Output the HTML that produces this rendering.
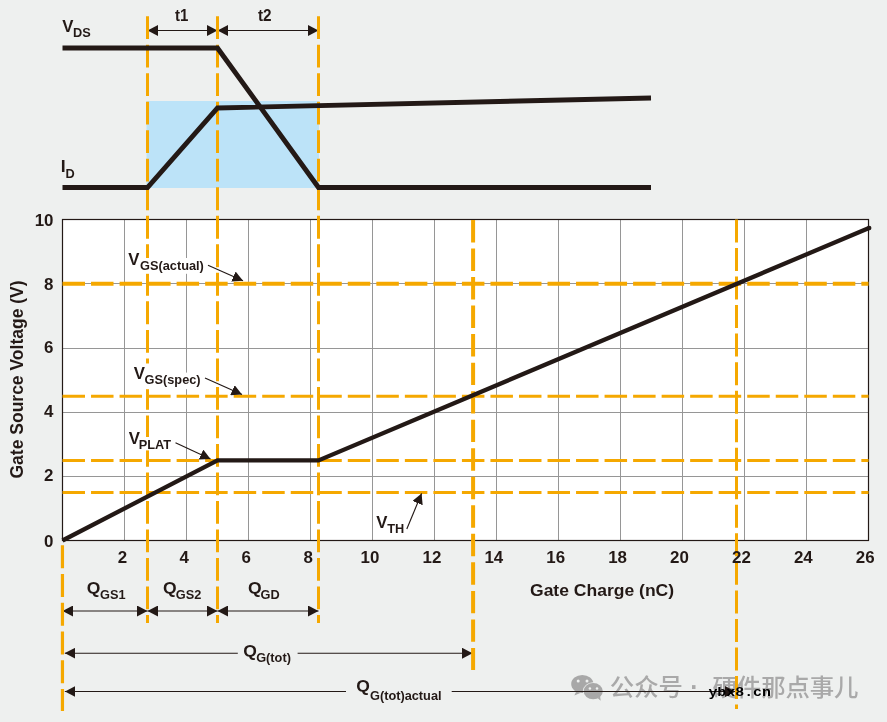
<!DOCTYPE html>
<html><head><meta charset="utf-8"><title>Gate Charge</title>
<style>
html,body{margin:0;padding:0;background:#eef0ef;}
body{width:887px;height:722px;overflow:hidden;}
svg{display:block}
text{font-family:"Liberation Sans",sans-serif;font-weight:bold;fill:#231916;}
.t16{font-size:16.1px}
.t17{font-size:16.7px}
.sub{font-size:12.1px}
.wm{font-family:"Liberation Sans","Noto Sans CJK SC",sans-serif;font-weight:500;fill:#a9a9a9;font-size:24.4px}
.site{font-family:"Liberation Mono",monospace;font-weight:bold;font-size:12.5px;fill:#000}
</style></head><body>
<svg width="887" height="722" viewBox="0 0 887 722">
<defs>
<marker id="ah" viewBox="0 0 10 10" refX="10" refY="5" markerWidth="10.5" markerHeight="11" markerUnits="userSpaceOnUse" preserveAspectRatio="none" orient="auto-start-reverse"><path d="M0,0 L10,5 L0,10 Z" fill="#231916"/></marker>
</defs>
<rect x="0" y="0" width="887" height="722" fill="#eef0ef"/>

<text x="609.8" y="696" class="wm">公众号</text>
<text x="694.5" y="696" class="wm" text-anchor="middle" style="font-weight:bold;font-size:25px">·</text>
<text x="712.5" y="696" class="wm" textLength="146" lengthAdjust="spacing">硬件那点事儿</text>
<g fill="#a8a8a8"><ellipse cx="582.3" cy="684" rx="11.1" ry="9.1"/><path d="M576.5 691 l-2.2 4.6 l6 -2.6z"/><ellipse cx="593.2" cy="691.2" rx="10.4" ry="8.9" fill="#eef0ef"/><ellipse cx="593.2" cy="691.2" rx="9.6" ry="8.1"/><path d="M597.5 698 l3.2 2.8 l-0.6 -4.4z"/></g>
<g fill="#eef0ef"><circle cx="578.2" cy="681" r="1.5"/><circle cx="587" cy="681" r="1.5"/><circle cx="589.9" cy="688.6" r="1.25"/><circle cx="597" cy="688.6" r="1.25"/></g>
<rect x="146.5" y="101" width="172.5" height="87" fill="#bce3f8"/>
<rect x="62.5" y="219.5" width="806.0" height="321.0" fill="#fff"/>
<line x1="124.5" y1="219.5" x2="124.5" y2="540.5" stroke="#969696" stroke-width="1"/>
<line x1="186.5" y1="219.5" x2="186.5" y2="540.5" stroke="#969696" stroke-width="1"/>
<line x1="248.5" y1="219.5" x2="248.5" y2="540.5" stroke="#969696" stroke-width="1"/>
<line x1="310.5" y1="219.5" x2="310.5" y2="540.5" stroke="#969696" stroke-width="1"/>
<line x1="372.5" y1="219.5" x2="372.5" y2="540.5" stroke="#969696" stroke-width="1"/>
<line x1="434.5" y1="219.5" x2="434.5" y2="540.5" stroke="#969696" stroke-width="1"/>
<line x1="496.5" y1="219.5" x2="496.5" y2="540.5" stroke="#969696" stroke-width="1"/>
<line x1="558.5" y1="219.5" x2="558.5" y2="540.5" stroke="#969696" stroke-width="1"/>
<line x1="620.5" y1="219.5" x2="620.5" y2="540.5" stroke="#969696" stroke-width="1"/>
<line x1="682.5" y1="219.5" x2="682.5" y2="540.5" stroke="#969696" stroke-width="1"/>
<line x1="744.5" y1="219.5" x2="744.5" y2="540.5" stroke="#969696" stroke-width="1"/>
<line x1="806.5" y1="219.5" x2="806.5" y2="540.5" stroke="#969696" stroke-width="1"/>
<line x1="62.5" y1="476.5" x2="868.5" y2="476.5" stroke="#969696" stroke-width="1"/>
<line x1="62.5" y1="412.5" x2="868.5" y2="412.5" stroke="#969696" stroke-width="1"/>
<line x1="62.5" y1="348.5" x2="868.5" y2="348.5" stroke="#969696" stroke-width="1"/>
<line x1="62.5" y1="283.5" x2="868.5" y2="283.5" stroke="#969696" stroke-width="1"/>
<rect x="62.5" y="219.5" width="806.0" height="321.0" fill="none" stroke="#231916" stroke-width="1.2"/>
<line x1="62.5" y1="283.7" x2="868.5" y2="283.7" stroke="#f5a800" stroke-width="4.1" stroke-dasharray="22.5 6.03"/>
<line x1="62.5" y1="396.2" x2="868.5" y2="396.2" stroke="#f5a800" stroke-width="3" stroke-dasharray="22.5 6.03"/>
<line x1="62.5" y1="460.4" x2="868.5" y2="460.4" stroke="#f5a800" stroke-width="3" stroke-dasharray="22.5 6.03"/>
<line x1="62.5" y1="492.4" x2="868.5" y2="492.4" stroke="#f5a800" stroke-width="3" stroke-dasharray="22.5 6.03"/>
<line x1="147.5" y1="30.5" x2="217.5" y2="30.5" stroke="#231916" stroke-width="1.15" marker-start="url(#ah)" marker-end="url(#ah)"/>
<line x1="217.5" y1="30.5" x2="318.5" y2="30.5" stroke="#231916" stroke-width="1.15" marker-start="url(#ah)" marker-end="url(#ah)"/>
<line x1="62.5" y1="611" x2="147.5" y2="611" stroke="#231916" stroke-width="1.15" marker-start="url(#ah)" marker-end="url(#ah)"/>
<line x1="147.5" y1="611" x2="217.5" y2="611" stroke="#231916" stroke-width="1.15" marker-start="url(#ah)" marker-end="url(#ah)"/>
<line x1="217.5" y1="611" x2="318.5" y2="611" stroke="#231916" stroke-width="1.15" marker-start="url(#ah)" marker-end="url(#ah)"/>
<line x1="64.8" y1="653.2" x2="472.4" y2="653.2" stroke="#231916" stroke-width="1.15" marker-start="url(#ah)" marker-end="url(#ah)"/>
<line x1="64.8" y1="691.5" x2="735.5" y2="691.5" stroke="#231916" stroke-width="1.15" marker-start="url(#ah)" marker-end="url(#ah)"/>
<line x1="147.5" y1="16.27" x2="147.5" y2="623" stroke="#f5a800" stroke-width="3" stroke-dasharray="22.8 5.71"/>
<line x1="217.5" y1="16.27" x2="217.5" y2="623" stroke="#f5a800" stroke-width="3" stroke-dasharray="22.8 5.71"/>
<line x1="318.5" y1="16.27" x2="318.5" y2="623" stroke="#f5a800" stroke-width="3" stroke-dasharray="22.8 5.71"/>
<line x1="62.45" y1="545.2" x2="62.45" y2="711" stroke="#f5a800" stroke-width="3.2" stroke-dasharray="23 5.76"/>
<line x1="473.1" y1="220" x2="473.1" y2="670" stroke="#f5a800" stroke-width="4" stroke-dasharray="22.4 6.13"/>
<line x1="736.5" y1="219.5" x2="736.5" y2="709" stroke="#f5a800" stroke-width="3" stroke-dasharray="23 5.53"/>
<polyline points="62.5,48 217.5,48 318.5,187.5 651,187.5" fill="none" stroke="#231916" stroke-width="4.9" stroke-linejoin="miter"/>
<polyline points="62.5,187.5 147.5,187.5 217.5,108 651,98" fill="none" stroke="#231916" stroke-width="4.9" stroke-linejoin="miter"/>
<polyline points="62.5,540.5 217.5,460.4 318.5,460.4 869,228" fill="none" stroke="#231916" stroke-width="4.3" stroke-linejoin="miter"/>
<circle cx="869.2" cy="227.9" r="2.25" fill="#231916"/>
<line x1="208" y1="265.3" x2="243" y2="280.8" stroke="#231916" stroke-width="1.15" marker-end="url(#ah)"/>
<line x1="205" y1="378" x2="242" y2="394.5" stroke="#231916" stroke-width="1.15" marker-end="url(#ah)"/>
<line x1="175.5" y1="442.8" x2="210.5" y2="459" stroke="#231916" stroke-width="1.15" marker-end="url(#ah)"/>
<line x1="406.8" y1="529" x2="421.6" y2="493.4" stroke="#231916" stroke-width="1.15" marker-end="url(#ah)"/>
<text transform="translate(62.2 31.8) scale(1.0 1)" style="font-size:16.8px">V</text>
<text transform="translate(73.0 36.6) scale(0.96 1)" style="font-size:13.3px">DS</text>
<text transform="translate(60.7 172.3) scale(1.05 1)" style="font-size:16.8px">I</text>
<text transform="translate(65.6 177.9) scale(0.96 1)" style="font-size:13.3px">D</text>
<text transform="translate(175 21) scale(0.9 1)" class="t17" letter-spacing="0">t1<tspan class="sub" dx="-1.11" dy="5.4"></tspan></text>
<text transform="translate(258 21) scale(0.92 1)" class="t17" letter-spacing="0">t2<tspan class="sub" dx="-1.09" dy="5.4"></tspan></text>
<rect x="139.3" y="258" width="66.0" height="15.8" fill="#fff"/>
<rect x="133" y="363.5" width="16.6" height="18.0" fill="#fff"/>
<rect x="144" y="372.6" width="57.0" height="16.6" fill="#fff"/>
<rect x="138.5" y="437" width="34.3" height="13.4" fill="#fff"/>
<text transform="translate(128.2 264.5) scale(1.0 1)" style="font-size:16.8px">V</text>
<text transform="translate(140.1 270.2) scale(0.96 1)" style="font-size:13.3px">GS(actual)</text>
<text transform="translate(133.7 378.8) scale(1.0 1)" style="font-size:16.8px">V</text>
<text transform="translate(144.6 384.1) scale(0.96 1)" style="font-size:13.3px">GS(spec)</text>
<text transform="translate(128.7 444) scale(1.0 1)" style="font-size:16.8px">V</text>
<text transform="translate(138.7 448.6) scale(0.96 1)" style="font-size:13.3px">PLAT</text>
<text transform="translate(376.2 527.6) scale(1.0 1)" style="font-size:16.8px">V</text>
<text transform="translate(387.2 532.7) scale(0.96 1)" style="font-size:13.3px">TH</text>
<text transform="translate(86.8 594.4) scale(1.11 1)" style="font-size:15.8px">Q</text>
<text transform="translate(100.1 599.4) scale(0.96 1)" style="font-size:13.3px">GS1</text>
<text transform="translate(163.1 594.4) scale(1.11 1)" style="font-size:15.8px">Q</text>
<text transform="translate(175.8 599.4) scale(0.96 1)" style="font-size:13.3px">GS2</text>
<text transform="translate(248.1 594.4) scale(1.11 1)" style="font-size:15.8px">Q</text>
<text transform="translate(260.5 599.4) scale(0.96 1)" style="font-size:13.3px">GD</text>
<rect x="237.8" y="640" width="59.8" height="28" fill="#eef0ef"/>
<text transform="translate(243.2 656.7) scale(1.11 1)" style="font-size:15.8px">Q</text>
<text transform="translate(256.2 661.9) scale(0.96 1)" style="font-size:13.3px">G(tot)</text>
<rect x="346" y="676" width="105.7" height="30" fill="#eef0ef"/>
<text transform="translate(356.3 692.4) scale(1.11 1)" style="font-size:15.8px">Q</text>
<text transform="translate(370.0 699.8) scale(0.96 1)" style="font-size:13.3px">G(tot)actual</text>
<text transform="translate(122.4 562.7) scale(1.05 1)" class="t16" text-anchor="middle">2</text>
<text transform="translate(184.3 562.7) scale(1.05 1)" class="t16" text-anchor="middle">4</text>
<text transform="translate(246.2 562.7) scale(1.05 1)" class="t16" text-anchor="middle">6</text>
<text transform="translate(308.1 562.7) scale(1.05 1)" class="t16" text-anchor="middle">8</text>
<text transform="translate(370.0 562.7) scale(1.05 1)" class="t16" text-anchor="middle">10</text>
<text transform="translate(431.9 562.7) scale(1.05 1)" class="t16" text-anchor="middle">12</text>
<text transform="translate(493.8 562.7) scale(1.05 1)" class="t16" text-anchor="middle">14</text>
<text transform="translate(555.7 562.7) scale(1.05 1)" class="t16" text-anchor="middle">16</text>
<text transform="translate(617.6 562.7) scale(1.05 1)" class="t16" text-anchor="middle">18</text>
<text transform="translate(679.5 562.7) scale(1.05 1)" class="t16" text-anchor="middle">20</text>
<text transform="translate(741.4 562.7) scale(1.05 1)" class="t16" text-anchor="middle">22</text>
<text transform="translate(803.3 562.7) scale(1.05 1)" class="t16" text-anchor="middle">24</text>
<text transform="translate(865.2 562.7) scale(1.05 1)" class="t16" text-anchor="middle">26</text>
<text transform="translate(53.5 546.5) scale(1.05 1)" class="t16" text-anchor="end">0</text>
<text transform="translate(53.5 480.9) scale(1.05 1)" class="t16" text-anchor="end">2</text>
<text transform="translate(53.5 416.9) scale(1.05 1)" class="t16" text-anchor="end">4</text>
<text transform="translate(53.5 353.4) scale(1.05 1)" class="t16" text-anchor="end">6</text>
<text transform="translate(53.5 289.6) scale(1.05 1)" class="t16" text-anchor="end">8</text>
<text transform="translate(53.5 225.5) scale(1.05 1)" class="t16" text-anchor="end">10</text>
<text transform="translate(530 595.8) scale(1.05 1)" class="t17">Gate Charge (nC)</text>
<text transform="translate(22.9,478.5) rotate(-90)" class="t17" style="font-size:17.5px">Gate Source Voltage (V)</text>
<text x="708.4" y="695.6" class="site" textLength="62.6" lengthAdjust="spacingAndGlyphs">ybx8.cn</text>
</svg></body></html>
